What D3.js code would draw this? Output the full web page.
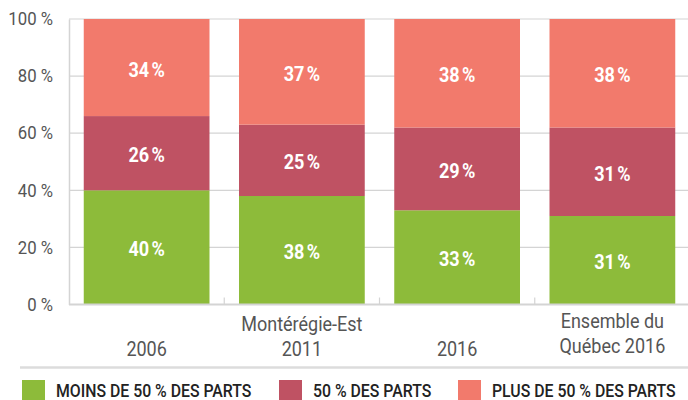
<!DOCTYPE html>
<html>
<head>
<meta charset="utf-8">
<script src="https://cdn.jsdelivr.net/npm/d3@7"></script>
<style>
  body { margin: 0; background: #fff; }
  svg { display: block; font-family: Roboto, "Liberation Sans", sans-serif; }
</style>
</head>
<body>
<div id="chart"></div>
<script>
const W = 688, H = 400;

// categories (each label split into lines)
const categories = ["2006", "2011", "2016", "qc2016"];
const catLines = [["", "2006"], ["Montérégie-Est", "2011"], ["", "2016"], ["Ensemble du", "Québec 2016"]];
// series values (%)
const moins50 = [40, 38, 33, 31];
const egal50 = [26, 25, 29, 31];
const plus50 = [34, 37, 38, 38];
const seriesNames = ["MOINS DE 50 % DES PARTS", "50 % DES PARTS", "PLUS DE 50 % DES PARTS"];
const seriesColors = ["#8dbb3a", "#bf5263", "#f27a6c"];
const yTicks = [0, 20, 40, 60, 80, 100];

const margin = {top: 19, right: -2, bottom: 95.5, left: 69};
const width = W - margin.left - margin.right;
const height = H - margin.top - margin.bottom;

// squeeze text horizontally to mimic a condensed face
function condense(sel, k) {
  sel.each(function() {
    const n = this.getComputedTextLength();
    if (n > 0) d3.select(this).attr("textLength", n * k).attr("lengthAdjust", "spacingAndGlyphs");
  });
}

const svg = d3.select("#chart").append("svg")
    .attr("width", W)
    .attr("height", H);
const g = svg.append("g")
    .attr("transform", "translate(" + margin.left + "," + margin.top + ")");

const x = d3.scaleBand().domain(categories).range([0, width]).paddingInner(0.19).paddingOuter(0.095);
const y = d3.scaleLinear().domain([0, 100]).range([height, 0]);

// gridlines
g.append("g").selectAll("line")
    .data(yTicks.filter(d => d > 0))
  .enter().append("line")
    .attr("x1", 0).attr("x2", width)
    .attr("y1", d => y(d)).attr("y2", d => y(d))
    .attr("stroke", "#d4d4d4").attr("stroke-width", 1.2);

// y axis
const yAxis = d3.axisLeft(y).tickValues(yTicks).tickSize(0).tickPadding(16).tickFormat(d => d + " %");
const yg = g.append("g").call(yAxis);
yg.select(".domain").attr("stroke", "#d4d4d4").attr("stroke-width", 1.5);
yg.selectAll("text").attr("font-size", 18).attr("fill", "#555").attr("font-family", "Roboto");
condense(yg.selectAll("text"), 0.93);

// stacked data
const rows = categories.map((c, i) => ({cat: c, a: moins50[i], b: egal50[i], c: plus50[i]}));
const stack = d3.stack().keys(["a", "b", "c"])(rows);

const layers = g.append("g").selectAll("g")
    .data(stack)
  .enter().append("g")
    .attr("fill", (d, i) => seriesColors[i]);

layers.selectAll("rect")
    .data(d => d)
  .enter().append("rect")
    .attr("x", d => x(d.data.cat))
    .attr("width", x.bandwidth())
    .attr("y", d => y(d[1]))
    .attr("height", d => y(d[0]) - y(d[1]));

const vals = layers.selectAll("text")
    .data(d => d)
  .enter().append("text")
    .attr("x", d => x(d.data.cat) + x.bandwidth() / 2)
    .attr("y", d => (y(d[0]) + y(d[1])) / 2 + 9)
    .attr("text-anchor", "middle")
    .attr("font-size", 21)
    .attr("font-weight", "bold")
    .attr("fill", "#fff")
    .text(d => (d[1] - d[0]) + "\u202f%");
condense(vals, 0.86);

// x axis
g.append("line")
    .attr("x1", 0).attr("x2", width)
    .attr("y1", height).attr("y2", height)
    .attr("stroke", "#d4d4d4").attr("stroke-width", 2);
g.append("g").selectAll("line")
    .data(categories.slice(1))
  .enter().append("line")
    .attr("x1", d => x(d) - (x.step() - x.bandwidth()) / 2)
    .attr("x2", d => x(d) - (x.step() - x.bandwidth()) / 2)
    .attr("y1", height - 7).attr("y2", height)
    .attr("stroke", "#d4d4d4").attr("stroke-width", 1.2);

const xl = g.append("g").selectAll("text")
    .data(categories)
  .enter().append("text")
    .attr("text-anchor", "middle")
    .attr("font-size", 20)
    .attr("fill", "#555")
    .attr("x", d => x(d) + x.bandwidth() / 2)
    .attr("y", (d, i) => height + (i === 3 ? 23 : 26));
xl.each(function(d, i) {
  const t = d3.select(this);
  catLines[i].forEach((ln, j) => {
    t.append("tspan")
      .attr("x", x(d) + x.bandwidth() / 2)
      .attr("dy", j === 0 ? 0 : 25)
      .text(ln);
  });
});
condense(xl.selectAll("tspan"), 0.9);

// separator
svg.append("line")
    .attr("x1", 20).attr("x2", W)
    .attr("y1", 367.5).attr("y2", 367.5)
    .attr("stroke", "#dcdcdc").attr("stroke-width", 2.5);

// legend
const legendX = [22, 279, 458];
const lg = svg.append("g").selectAll("g")
    .data(seriesNames)
  .enter().append("g")
    .attr("transform", (d, i) => "translate(" + legendX[i] + ",380)");
lg.append("rect").attr("width", 23).attr("height", 24).attr("fill", (d, i) => seriesColors[i]);
lg.append("g")
    .attr("transform", "translate(34,17) scale(0.88,1)")
  .append("text")
    .attr("font-size", 18)
    .attr("font-weight", 500)
    .attr("fill", "#222")
    .text(d => d);
</script>
</body>
</html>
